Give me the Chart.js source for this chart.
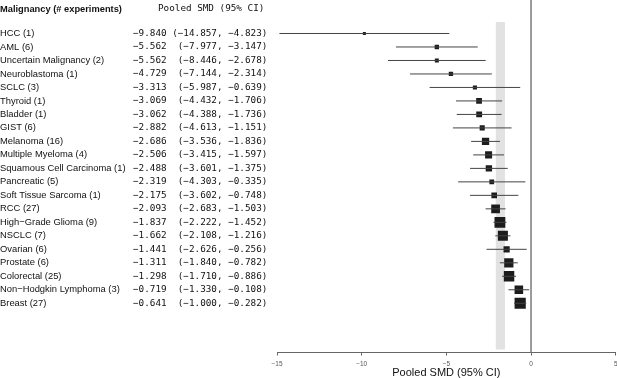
<!DOCTYPE html>
<html lang="en">
<head>
  <meta charset="UTF-8" />
  <title>Pooled SMD by malignancy</title>
  <script src="https://cdn.jsdelivr.net/npm/chart.js"></script>
  <style>
    html, body { margin: 0; padding: 0; background: #fff; }
    #wrap { width: 617px; height: 378px; position: relative; }
  </style>
</head>
<body>
  <div id="wrap"><canvas id="forest"></canvas></div>

  <script>
    // values
    const malignancies = [
      'HCC (1)', 'AML (6)', 'Uncertain Malignancy (2)', 'Neuroblastoma (1)', 'SCLC (3)',
      'Thyroid (1)', 'Bladder (1)', 'GIST (6)', 'Melanoma (16)', 'Multiple Myeloma (4)',
      'Squamous Cell Carcinoma (1)', 'Pancreatic (5)', 'Soft Tissue Sarcoma (1)', 'RCC (27)',
      'High\u2212Grade Glioma (9)', 'NSCLC (7)', 'Ovarian (6)', 'Prostate (6)', 'Colorectal (25)',
      'Non\u2212Hodgkin Lymphoma (3)', 'Breast (27)'
    ];
    const smd = [-9.840, -5.562, -5.562, -4.729, -3.313, -3.069, -3.062, -2.882, -2.686, -2.506,
                 -2.488, -2.319, -2.175, -2.093, -1.837, -1.662, -1.441, -1.311, -1.298, -0.719, -0.641];
    const ciLow = [-14.857, -7.977, -8.446, -7.144, -5.987, -4.432, -4.388, -4.613, -3.536, -3.415,
                   -3.601, -4.303, -3.602, -2.683, -2.222, -2.108, -2.626, -1.840, -1.710, -1.330, -1.000];
    const ciHigh = [-4.823, -3.147, -2.678, -2.314, -0.639, -1.706, -1.736, -1.151, -1.836, -1.597,
                    -1.375, -0.335, -0.748, -1.503, -1.452, -1.216, -0.256, -0.782, -0.886, -0.108, -0.282];
    const xTicks = [-15, -10, -5, 0, 5];
    const pooledBand = [-2.08, -1.54];

    const minus = s => s.replace(/-/g, '\u2212');
    const fmt = v => minus(v.toFixed(3));

    // box side shrinks with CI width (weight)
    const boxSide = (lo, hi) => 9.5 / Math.sqrt(hi - lo);

    const ciDatasets = malignancies.map((m, i) => ({
      type: 'line',
      data: [{ x: ciLow[i], y: i }, { x: ciHigh[i], y: i }],
      borderColor: '#444',
      borderWidth: 1,
      pointRadius: 0,
      fill: false
    }));

    const radii = smd.map((v, i) => boxSide(ciLow[i], ciHigh[i]) / Math.SQRT2);
    const boxes = {
      type: 'scatter',
      data: smd.map((v, i) => ({ x: v, y: i })),
      backgroundColor: '#1c1c1c',
      borderWidth: 0,
      pointStyle: 'rect',
      pointRadius: radii,
      pointHoverRadius: radii
    };

    const forestText = {
      id: 'forestText',
      beforeDatasetsDraw(chart) {
        const { ctx, chartArea, scales: { x, y } } = chart;
        ctx.save();
        // pooled estimate band
        ctx.fillStyle = '#e2e2e2';
        const bx0 = x.getPixelForValue(pooledBand[0]);
        const bx1 = x.getPixelForValue(pooledBand[1]);
        const by0 = y.getPixelForValue(-0.85);
        ctx.fillRect(bx0, by0, bx1 - bx0, chartArea.bottom - 3 - by0);
        // zero line
        ctx.strokeStyle = '#7a7a7a';
        ctx.lineWidth = 1.5;
        const zx = x.getPixelForValue(0);
        ctx.beginPath();
        ctx.moveTo(zx, 0);
        ctx.lineTo(zx, chartArea.bottom);
        ctx.stroke();
        ctx.restore();
      },
      afterDraw(chart) {
        const { ctx, scales: { y } } = chart;
        ctx.save();
        ctx.textBaseline = 'middle';
        ctx.fillStyle = '#111';
        ctx.font = 'bold 9.3px "Liberation Sans", Arial, sans-serif';
        ctx.fillText('Malignancy (# experiments)', 0, 9);
        ctx.font = '9.3px "DejaVu Sans Mono", monospace';
        ctx.fillText('Pooled SMD (95% CI)', 158, 9);
        malignancies.forEach((m, i) => {
          const py = y.getPixelForValue(i);
          ctx.font = '9.4px "Liberation Sans", Arial, sans-serif';
          ctx.fillText(m, 0, py);
          ctx.font = '9.3px "DejaVu Sans Mono", monospace';
          const s = fmt(smd[i]) + ' ' + ('(' + fmt(ciLow[i])).padStart(8) + ', ' + fmt(ciHigh[i]) + ')';
          ctx.fillText(s, 133, py);
        });
        ctx.restore();
      }
    };

    new Chart(document.getElementById('forest'), {
      data: { datasets: [...ciDatasets, boxes] },
      options: {
        responsive: true,
        maintainAspectRatio: false,
        animation: false,
        layout: { autoPadding: false, padding: { left: 277, right: 0, top: 0, bottom: 0 } },
        plugins: { legend: { display: false }, tooltip: { enabled: false } },
        scales: {
          x: {
            type: 'linear',
            min: -15,
            max: 5,
            afterBuildTicks: axis => { axis.ticks = xTicks.map(v => ({ value: v })); },
            afterFit: axis => { axis.paddingRight = 1.3; axis.height = 25.5; },
            grid: { display: true, drawOnChartArea: false, drawTicks: true, tickLength: 3, color: '#666' },
            border: { display: true, color: '#666', width: 1 },
            ticks: {
              padding: 5.7,
              maxRotation: 0,
              color: '#555',
              font: { size: 6.5, family: 'Liberation Sans, Arial, sans-serif', lineHeight: 1 },
              callback: v => minus(String(v))
            },
            title: {
              display: true,
              text: 'Pooled SMD (95% CI)',
              color: '#111',
              padding: { top: 0, bottom: 0 },
              font: { size: 11, family: 'Liberation Sans, Arial, sans-serif', lineHeight: 0.9 }
            }
          },
          y: {
            type: 'linear',
            display: false,
            reverse: true,
            min: -2.483,
            max: 23.65
          }
        }
      },
      plugins: [forestText]
    });
  </script>
</body>
</html>
